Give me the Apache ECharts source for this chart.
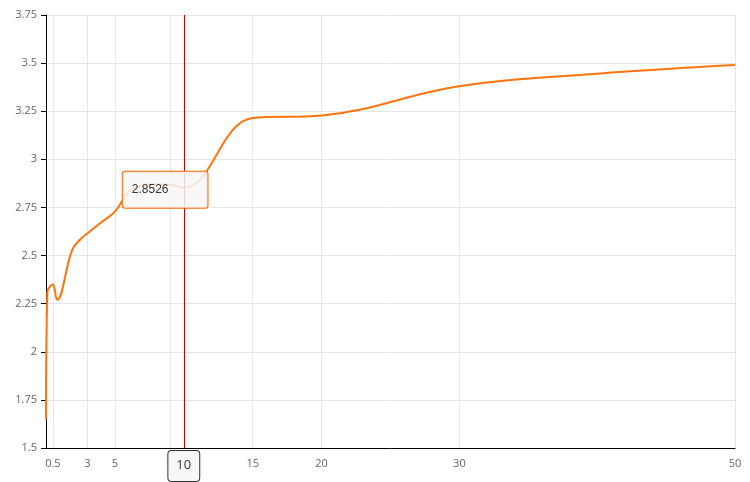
<!DOCTYPE html>
<html><head><meta charset="utf-8">
<script src="https://cdn.jsdelivr.net/npm/echarts@6/dist/echarts.min.js"></script>
<style>html,body{margin:0;padding:0;background:#fff}#c{width:750px;height:482px}</style>
</head><body><div id="c"></div>
<script>
var xValues = [0, 0.1, 0.5, 0.8, 1.9, 2.5, 3, 4, 5, 6, 7, 8, 9, 10, 15, 20, 30, 40, 50];
var yValues = [1.65, 2.31, 2.35, 2.27, 2.53, 2.585, 2.615, 2.672, 2.728, 2.83, 2.865, 2.87, 2.868, 2.8526, 3.215, 3.228, 3.38, 3.445, 3.49];
var xTickValues = [0.5, 3, 5, 9, 10, 15, 20, 30, 50];
var highlightIndex = 13;

var chart = echarts.init(document.getElementById('c'));
var data = xValues.map(function (x, i) { return [x, yValues[i]]; });
var font = 'Open Sans, sans-serif';
chart.setOption({
  animation: false,
  grid: { left: 46, right: 15, top: 15, bottom: 34, containLabel: false },
  tooltip: {
    trigger: 'axis',
    renderMode: 'richText',
    alwaysShowContent: true,
    transitionDuration: 0,
    backgroundColor: 'rgba(247,247,247,0.85)',
    borderColor: '#ff6a0c',
    borderWidth: 1,
    borderRadius: 2,
    shadowBlur: 0,
    shadowColor: 'rgba(0,0,0,0)',
    shadowOffsetX: 0,
    shadowOffsetY: 0,
    padding: [7, 39, 7, 9],
    textStyle: {
      color: '#333', fontSize: 14, fontFamily: font,
      rich: { v: { color: '#333', fontSize: 14, fontFamily: font, lineHeight: 17 } }
    },
    formatter: function (p) { return '{v|' + p[0].data[1] + '}'; },
    position: function (pt) { return [pt[0] - 62, pt[1] - 17]; },
    axisPointer: {
      type: 'line',
      lineStyle: { color: '#cc0000', width: 1, type: 'solid' },
      label: {
        show: true,
        formatter: function (p) { return String(Math.round(p.value * 100) / 100); },
        backgroundColor: '#f7f7f7',
        borderColor: '#333',
        borderWidth: 1,
        borderRadius: 3,
        color: '#333',
        fontSize: 13,
        fontFamily: font,
        padding: [8, 8, 9, 8],
        shadowBlur: 0
      }
    }
  },
  xAxis: {
    type: 'value', min: 0, max: 50,
    axisLine: { lineStyle: { color: '#000', width: 1 } },
    axisTick: { show: false, customValues: xTickValues },
    axisLabel: { customValues: xTickValues, hideOverlap: false, color: '#666', fontSize: 11, fontFamily: font, margin: 10 },
    splitLine: { show: true, lineStyle: { color: '#e6e6e6' } }
  },
  yAxis: {
    type: 'value', min: 1.5, max: 3.75, interval: 0.25,
    axisLine: { show: true, lineStyle: { color: '#000', width: 1 } },
    axisTick: { show: true, length: 5, lineStyle: { color: '#000' } },
    axisLabel: { color: '#666', fontSize: 11, fontFamily: font, margin: 9 },
    splitLine: { show: true, lineStyle: { color: '#e6e6e6' } }
  },
  series: [{
    type: 'line',
    data: data,
    smooth: 0.4,
    showSymbol: false,
    symbol: 'none',
    lineStyle: { color: '#ff6a0c', width: 2 },
    itemStyle: { color: '#ff6a0c' }
  }]
});
chart.dispatchAction({ type: 'showTip', seriesIndex: 0, dataIndex: highlightIndex });
</script></body></html>
